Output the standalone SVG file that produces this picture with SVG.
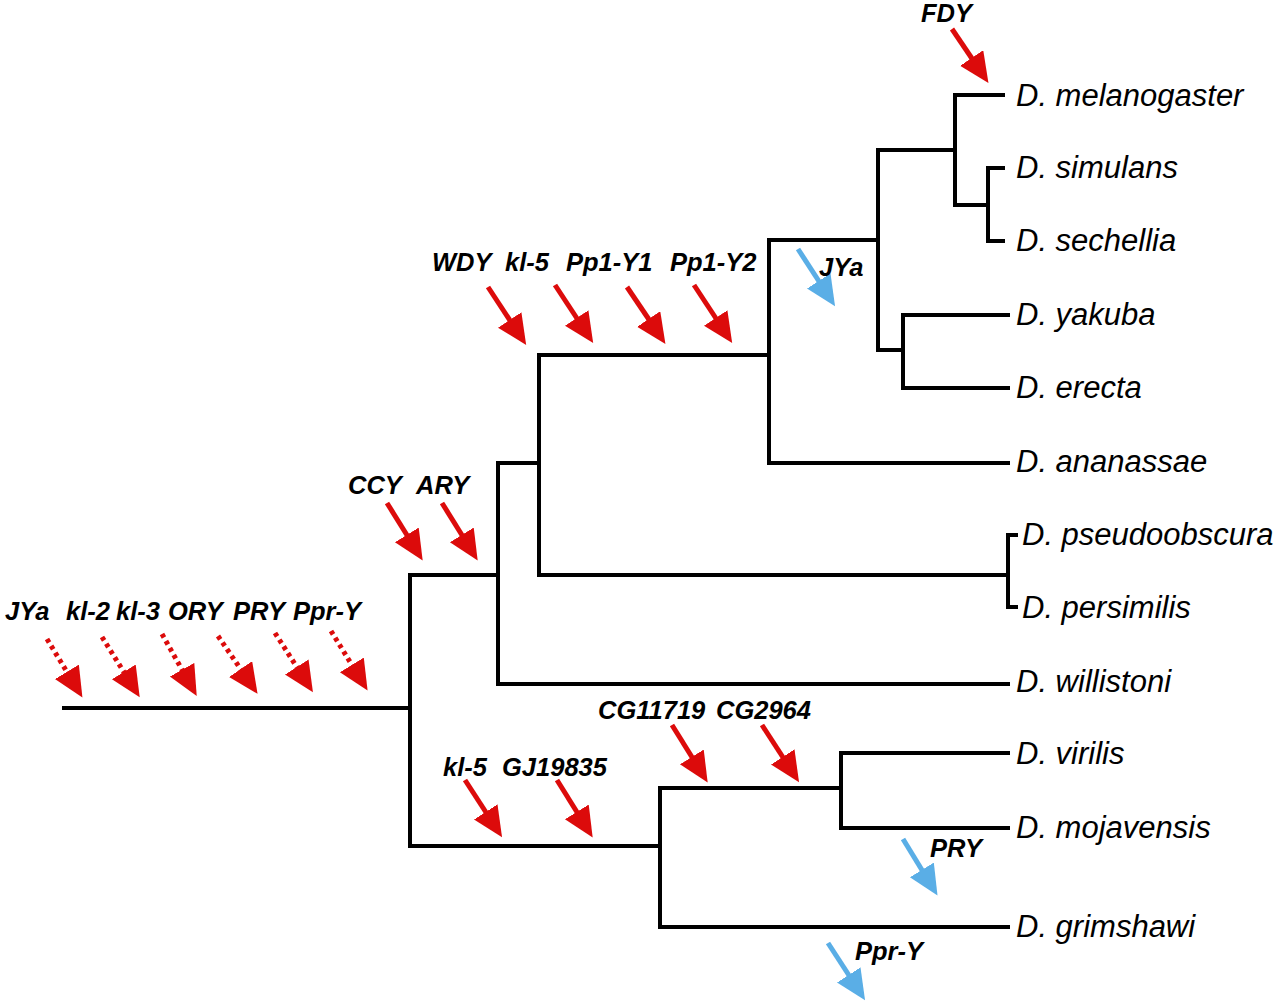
<svg xmlns="http://www.w3.org/2000/svg" width="1280" height="1004" viewBox="0 0 1280 1004">
<style>
.tree{stroke:#000;stroke-width:4;fill:none;stroke-linecap:square}
.sp{font-family:"Liberation Sans",Arial,sans-serif;font-style:italic;font-size:31px;fill:#000}
.gene{font-family:"Liberation Sans",Arial,sans-serif;font-style:italic;font-weight:bold;font-size:25.5px;fill:#000}
.ar{stroke:#dc0b0b;stroke-width:5;fill:none;marker-end:url(#hr)}
.dot{stroke:#dc0b0b;stroke-width:5;fill:none;stroke-dasharray:4 4;marker-end:url(#hr)}
.bl{stroke:#5aaee6;stroke-width:5;fill:none;marker-end:url(#hb)}
</style>
<defs>
<marker id="hr" markerUnits="userSpaceOnUse" markerWidth="34" markerHeight="34" refX="6" refY="14" orient="auto"><path d="M0,0 L30,14 L0,28 z" fill="#dc0b0b"/></marker>
<marker id="hb" markerUnits="userSpaceOnUse" markerWidth="34" markerHeight="34" refX="6" refY="14" orient="auto"><path d="M0,0 L30,14 L0,28 z" fill="#5aaee6"/></marker>
</defs>
<g id="connectors">
<path class="tree" d="M64,708 H410 M410,575 V846 M410,575 H498 M498,463 V684 M498,684 H1008 M498,463 H539 M539,355 V575 M539,575 H1008 M1008,535 V607 M1008,535 H1016 M1008,607 H1016 M539,355 H769 M769,240 V463 M769,463 H1008 M769,240 H878 M878,150 V350 M878,150 H955 M955,95 V205 M955,95 H1003 M955,205 H988 M988,168 V241 M988,168 H1003 M988,241 H1003 M878,350 H903 M903,315 V388 M903,315 H1008 M903,388 H1008 M410,846 H660 M660,788 V927 M660,788 H841 M841,753 V828 M841,753 H1008 M841,828 H1008 M660,927 H1008"/>
</g>
<g id="arrows">
<line class="ar" x1="952" y1="29" x2="975" y2="63"/>
<line class="ar" x1="488" y1="287" x2="513" y2="325"/>
<line class="ar" x1="555" y1="285" x2="580" y2="323"/>
<line class="ar" x1="627" y1="287" x2="652" y2="324"/>
<line class="ar" x1="694" y1="285" x2="719" y2="323"/>
<line class="ar" x1="387" y1="503" x2="410" y2="540"/>
<line class="ar" x1="442" y1="503" x2="465" y2="540"/>
<line class="dot" x1="47" y1="639" x2="70" y2="677"/>
<line class="dot" x1="102" y1="637" x2="127" y2="677"/>
<line class="dot" x1="162" y1="634" x2="185" y2="675"/>
<line class="dot" x1="218" y1="636" x2="244" y2="674"/>
<line class="dot" x1="275" y1="633" x2="300" y2="672"/>
<line class="dot" x1="331" y1="631" x2="355" y2="670"/>
<line class="ar" x1="465" y1="780" x2="489" y2="817"/>
<line class="ar" x1="557" y1="780" x2="580" y2="817"/>
<line class="ar" x1="672" y1="725" x2="695" y2="762"/>
<line class="ar" x1="762" y1="725" x2="786" y2="762"/>
<line class="bl" x1="798" y1="249" x2="822" y2="286"/>
<line class="bl" x1="903" y1="839" x2="925" y2="875"/>
<line class="bl" x1="828" y1="943" x2="852" y2="980"/>
</g>
<g id="species">
<text class="sp" x="1016" y="106">D. melanogaster</text>
<text class="sp" x="1016" y="178">D. simulans</text>
<text class="sp" x="1016" y="251">D. sechellia</text>
<text class="sp" x="1016" y="325">D. yakuba</text>
<text class="sp" x="1016" y="398">D. erecta</text>
<text class="sp" x="1016" y="472">D. ananassae</text>
<text class="sp" x="1022" y="545">D. pseudoobscura</text>
<text class="sp" x="1022" y="618">D. persimilis</text>
<text class="sp" x="1016" y="692">D. willistoni</text>
<text class="sp" x="1016" y="764">D. virilis</text>
<text class="sp" x="1016" y="838">D. mojavensis</text>
<text class="sp" x="1016" y="937">D. grimshawi</text>
</g>
<g id="genes">
<text class="gene" x="921" y="22">FDY</text>
<text class="gene" x="432" y="271">WDY</text>
<text class="gene" x="505" y="271">kl-5</text>
<text class="gene" x="566" y="271">Pp1-Y1</text>
<text class="gene" x="670" y="271">Pp1-Y2</text>
<text class="gene" x="819" y="276">JYa</text>
<text class="gene" x="348" y="494">CCY</text>
<text class="gene" x="416" y="494">ARY</text>
<text class="gene" x="5" y="620">JYa</text>
<text class="gene" x="66" y="620">kl-2</text>
<text class="gene" x="116" y="620">kl-3</text>
<text class="gene" x="168" y="620">ORY</text>
<text class="gene" x="233" y="620">PRY</text>
<text class="gene" x="293" y="620">Ppr-Y</text>
<text class="gene" x="598" y="719">CG11719</text>
<text class="gene" x="716" y="719">CG2964</text>
<text class="gene" x="443" y="776">kl-5</text>
<text class="gene" x="502" y="776">GJ19835</text>
<text class="gene" x="930" y="857">PRY</text>
<text class="gene" x="855" y="960">Ppr-Y</text>
</g>
</svg>
